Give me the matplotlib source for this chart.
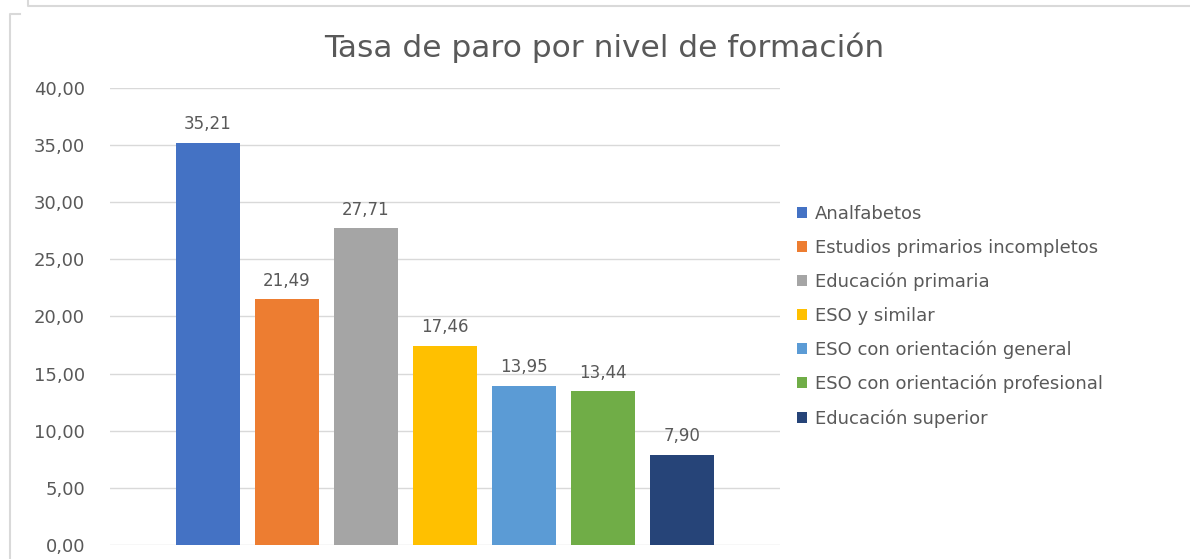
import matplotlib.pyplot as plt
from matplotlib.lines import Line2D
import numpy as np

# Datos
categorias = ["Analfabetos", "Estudios primarios incompletos", "Educación primaria",
              "ESO y similar", "ESO con orientación general",
              "ESO con orientación profesional", "Educación superior"]
valores = [35.21, 21.49, 27.71, 17.46, 13.95, 13.44, 7.90]
colores = ["#4472C4", "#ED7D31", "#A5A5A5", "#FFC000", "#5B9BD5", "#70AD47", "#264478"]
ticks_y = [0, 5, 10, 15, 20, 25, 30, 35, 40]

plt.rcParams['font.family'] = ['DejaVu Sans']
gris = "#595959"

W, H = 1190, 559
fig = plt.figure(figsize=(W / 100, H / 100), dpi=100)
ax = fig.add_axes([110 / W, (H - 545) / H, 670 / W, 457 / H])

x = np.arange(len(valores))
for i in range(len(valores)):
    ax.bar(x[i], valores[i], width=0.8, color=colores[i], label=categorias[i], zorder=3)
    ax.text(x[i], valores[i] + 0.85, f"{valores[i]:.2f}".replace(".", ","),
            ha="center", va="bottom", fontsize=12, color=gris)

ax.set_xlim(-1.24, 7.24)
ax.set_ylim(0, 40)
ax.set_yticks(ticks_y)
ax.set_yticklabels([f"{t:.2f}".replace(".", ",") for t in ticks_y], fontsize=13, color=gris)
ax.set_xticks([])
ax.tick_params(axis="y", length=0, pad=18)
ax.grid(axis="y", color="#d9d9d9", lw=1, zorder=0)
for s in ax.spines.values():
    s.set_visible(False)

fig.text(604 / W, 1 - 48 / H, "Tasa de paro por nivel de formación",
         ha="center", va="center", fontsize=22.5, color=gris)

fig.legend(loc="upper left", bbox_to_anchor=(781 / W, 1 - 189 / H), frameon=False,
           fontsize=13, labelcolor=gris, handlelength=0.55, handleheight=0.55,
           handletextpad=0.45, labelspacing=0.87)

# Marcos del gráfico
fig.add_artist(Line2D([28 / W, 28 / W, 1], [1, 1 - 6 / H, 1 - 6 / H],
                      transform=fig.transFigure, color="#d9d9d9", lw=1.5))
fig.add_artist(Line2D([20 / W, 10 / W, 10 / W], [1 - 14 / H, 1 - 14 / H, 0],
                      transform=fig.transFigure, color="#d9d9d9", lw=1.5))

fig.savefig("out.png", dpi=100)
